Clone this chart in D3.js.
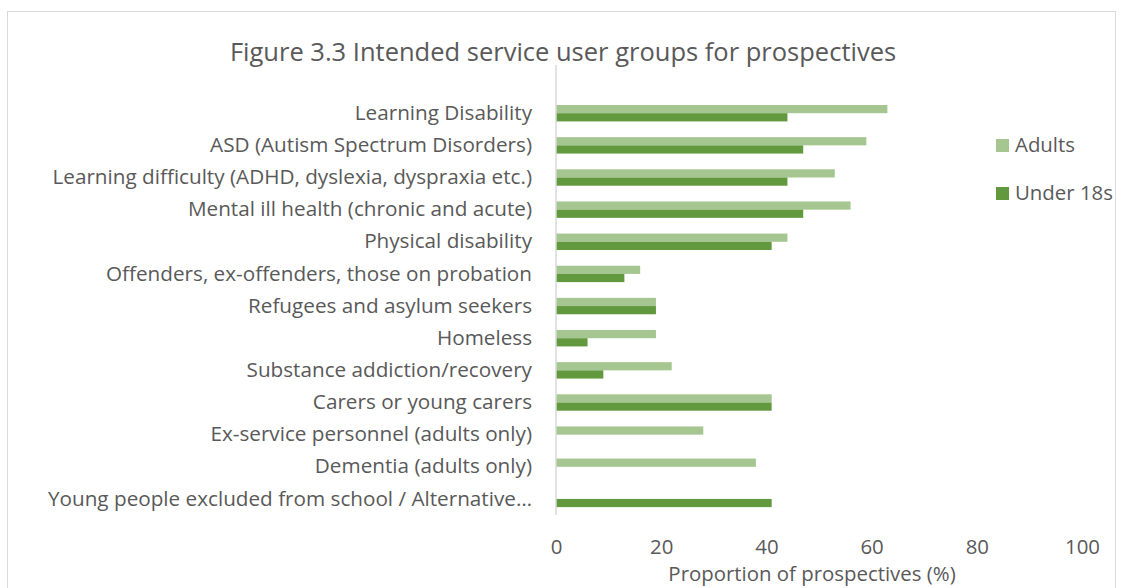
<!DOCTYPE html>
<html>
<head>
<meta charset="utf-8">
<script src="https://cdn.jsdelivr.net/npm/d3@7"></script>
<style>
  html, body { margin: 0; padding: 0; background: #fff; }
  svg { display: block; }
  text { font-family: "Open Sans", "Noto Sans", sans-serif; fill: #595959; }
</style>
</head>
<body>
<svg id="chart" width="1123" height="588"></svg>
<script>
// Service user groups, top to bottom
const categories = [
  "Learning Disability",
  "ASD (Autism Spectrum Disorders)",
  "Learning difficulty (ADHD, dyslexia, dyspraxia etc.)",
  "Mental ill health (chronic and acute)",
  "Physical disability",
  "Offenders, ex-offenders, those on probation",
  "Refugees and asylum seekers",
  "Homeless",
  "Substance addiction/recovery",
  "Carers or young carers",
  "Ex-service personnel (adults only)",
  "Dementia (adults only)",
  "Young people excluded from school / Alternative\u2026"
];
// Proportion of prospectives (%); null = group not offered
const adults   = [63, 59, 53, 56, 44, 16, 19, 19, 22, 41, 28, 38, null];
const under18s = [44, 47, 44, 47, 41, 13, 19, 6, 9, 41, null, null, 41];
const seriesNames = ["Adults", "Under 18s"];
const xTicks = [0, 20, 40, 60, 80, 100];

const colors = { "Adults": "#a5c690", "Under 18s": "#62993e" };
const labelSize = "20.7px";
const tickSize = "20.4px";

const svg = d3.select("#chart");

// outer chart frame
svg.append("rect")
  .attr("x", 7.5).attr("y", 11.5)
  .attr("width", 1108).attr("height", 600)
  .attr("fill", "#fff").attr("stroke", "#d9d9d9").attr("stroke-width", 1);

const plot = { left: 556, right: 1082, top: 65, bottom: 515 };
const step = (plot.bottom - plot.top) / (categories.length + 1);

const x = d3.scaleLinear().domain([0, 100]).range([plot.left, plot.right]);
const y = d3.scaleBand()
  .domain(categories)
  .range([plot.top + step, plot.bottom])
  .paddingInner(0).paddingOuter(0);
const inner = d3.scaleBand()
  .domain(seriesNames)
  .range([-8.2, 8.2]);

// title
svg.append("text")
  .attr("x", 563).attr("y", 61)
  .attr("text-anchor", "middle")
  .style("font-size", "25.5px")
  .text("Figure 3.3 Intended service user groups for prospectives");

// bars
const rows = categories.map((c, i) => ({ c, vals: [
  { s: "Adults", v: adults[i] },
  { s: "Under 18s", v: under18s[i] }
]}));

const g = svg.append("g");
rows.forEach(r => {
  const cy = y(r.c) + y.bandwidth() / 2;
  g.selectAll(null)
    .data(r.vals.filter(d => d.v !== null))
    .enter().append("rect")
    .attr("x", x(0))
    .attr("y", d => cy + inner(d.s))
    .attr("width", d => x(d.v) - x(0))
    .attr("height", inner.bandwidth())
    .attr("fill", d => colors[d.s]);
});

// vertical category axis line
svg.append("line")
  .attr("x1", plot.left).attr("x2", plot.left)
  .attr("y1", plot.top).attr("y2", plot.bottom)
  .attr("stroke", "#d9d9d9").attr("stroke-width", 1.5);

// category labels
const yAxis = d3.axisLeft(y).tickSize(0).tickPadding(24);
const ya = svg.append("g").attr("transform", `translate(${plot.left},0)`).call(yAxis);
ya.select(".domain").remove();
ya.selectAll("text")
  .style("font-size", labelSize)
  .attr("fill", "#595959")
  .style("font-family", "\"Open Sans\", sans-serif");

// value axis
const xAxis = d3.axisBottom(x).tickValues(xTicks).tickSize(0).tickPadding(0);
const xa = svg.append("g").attr("transform", `translate(0,${plot.bottom})`).call(xAxis);
xa.select(".domain").remove();
xa.selectAll("text")
  .attr("dy", null).attr("y", 39)
  .style("font-size", tickSize)
  .attr("fill", "#595959")
  .style("font-family", "\"Open Sans\", sans-serif");

svg.append("text")
  .attr("x", 812).attr("y", 581)
  .attr("text-anchor", "middle")
  .style("font-size", "20.4px")
  .text("Proportion of prospectives (%)");

// legend
const legend = svg.append("g");
seriesNames.forEach((s, i) => {
  const ly = 139 + i * 48;
  legend.append("rect")
    .attr("x", 996).attr("y", ly)
    .attr("width", 13).attr("height", 13)
    .attr("fill", colors[s]);
  legend.append("text")
    .attr("x", 1015).attr("y", ly + 13)
    .style("font-size", tickSize)
    .text(s);
});
</script>
</body>
</html>
